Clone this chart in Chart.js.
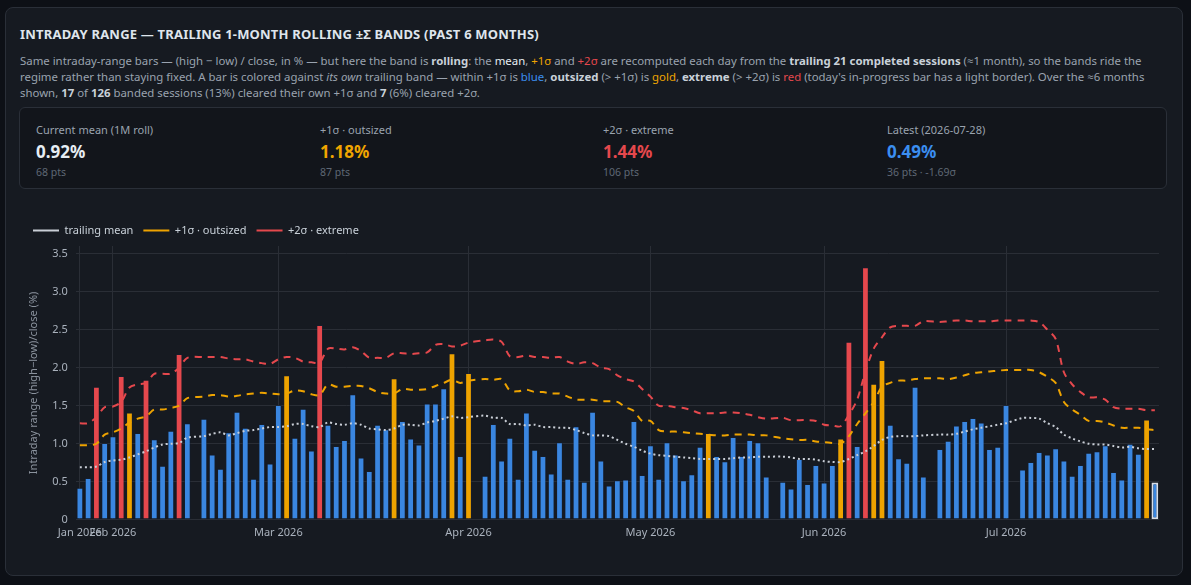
<!DOCTYPE html>
<html>
<head>
<meta charset="utf-8">
<script src="https://cdn.jsdelivr.net/npm/chart.js@4.4.1/dist/chart.umd.min.js"></script>
<style>
  html, body { margin: 0; padding: 0; background: #0d1016; }
  body { width: 1191px; height: 585px; overflow: hidden; font-family: 'Noto Sans', 'Open Sans', sans-serif; }
  .card { position: absolute; left: 5px; top: 7px; width: 1178px; height: 569px; background: #161a21;
          border: 1px solid #2a2f38; border-radius: 8px; box-sizing: border-box; }
  h1 { position: absolute; left: 14px; top: 17px; margin: 0; font-size: 13px; font-weight: 700; color: #dfe5ec; letter-spacing: 0.2px; }
  p.desc { position: absolute; left: 14px; top: 45px; width: 1150px; margin: 0; font-size: 11.4px; line-height: 16px; color: #9aa3af; }
  p.desc b { color: #c9d1d9; }
  .blue { color: #3b8ef0; } .gold { color: #f0a500; } .red { color: #e5484d; } .wt { color: #e6edf3; }
  .stats { position: absolute; left: 13px; top: 99px; width: 1148px; height: 82px; border: 1px solid #2a2f38;
           border-radius: 6px; box-sizing: border-box; background: #12151b; }
  .stat { position: absolute; top: 14px; }
  .stat .l { font-size: 11px; color: #9aa3af; }
  .stat .v { font-size: 17px; font-weight: 700; margin-top: 3px; }
  .stat .s { font-size: 10.5px; color: #5f6875; margin-top: 2px; }
  .chartbox { position: absolute; left: 13px; top: 207px; width: 1148px; height: 330px; }
</style>
</head>
<body>
<div class="card">
  <h1>INTRADAY RANGE — TRAILING 1-MONTH ROLLING ±Σ BANDS (PAST 6 MONTHS)</h1>
  <p class="desc">Same intraday-range bars — (high − low) / close, in % — but here the band is <b>rolling</b>: the <span class="wt">mean</span>, <span class="gold">+1σ</span> and <span class="red">+2σ</span> are recomputed each day from the <b>trailing 21 completed sessions</b> (≈1 month), so the bands ride the regime rather than staying fixed. A bar is colored against <i>its own</i> trailing band — within +1σ is <span class="blue">blue</span>, <b>outsized</b> (&gt; +1σ) is <span class="gold">gold</span>, <b>extreme</b> (&gt; +2σ) is <span class="red">red</span> (today's in-progress bar has a light border). Over the ≈6 months shown, <b>17</b> of <b>126</b> banded sessions (13%) cleared their own +1σ and <b>7</b> (6%) cleared +2σ.</p>
  <div class="stats">
    <div class="stat" style="left:16px"><div class="l">Current mean (1M roll)</div><div class="v" style="color:#e6edf3">0.92%</div><div class="s">68 pts</div></div>
    <div class="stat" style="left:300px"><div class="l">+1σ · outsized</div><div class="v gold">1.18%</div><div class="s">87 pts</div></div>
    <div class="stat" style="left:583px"><div class="l">+2σ · extreme</div><div class="v red">1.44%</div><div class="s">106 pts</div></div>
    <div class="stat" style="left:867px"><div class="l">Latest (2026-07-28)</div><div class="v blue">0.49%</div><div class="s">36 pts · -1.69σ</div></div>
  </div>
  <div class="chartbox"><canvas id="c"></canvas></div>
</div>
<script>
// Trading-day axis: every weekday from FIRST_DAY to LAST_DAY; market holidays stay as empty slots.
const FIRST_DAY = '2026-01-27';
const LAST_DAY = '2026-07-28';
const HOLIDAYS = ['2026-02-16', '2026-04-03', '2026-05-25', '2026-06-19', '2026-07-03'];
const MONTHS = ['Jan', 'Feb', 'Mar', 'Apr', 'May', 'Jun', 'Jul', 'Aug', 'Sep', 'Oct', 'Nov', 'Dec'];

// (high - low) / close, %
const rangePct = [
  0.42, 0.55, 1.75, 1.01,
  1.10, 1.89, 1.41, 1.14, 1.84,
  1.06, 0.71, 1.17, 2.18, 1.27,
  null, 1.33, 0.86, 0.67, 1.15,
  1.42, 1.21, 0.54, 1.26, 0.74,
  1.51, 1.90, 1.08, 1.46, 0.91,
  2.56, 1.25, 0.97, 1.05, 1.65,
  0.82, 0.64, 1.25, 1.19, 1.86,
  1.30, 1.07, 0.99, 1.53, 1.53,
  1.73, 2.19, 0.84, 1.93, null,
  0.58, 1.26, 0.78, 1.08, 0.54,
  1.41, 0.92, 0.84, 0.61, 1.02,
  0.54, 1.23, 0.50, 1.42, 0.78,
  0.45, 0.52, 0.53, 1.30, 0.59,
  0.98, 0.54, 1.02, 0.86, 0.52,
  0.60, 0.96, 1.14, 0.84, 0.77,
  1.09, 0.84, 1.05, 1.02, 0.57,
  null, 0.50, 0.41, 0.80, 0.47,
  0.72, 0.49, 0.72, 1.07, 2.34,
  0.97, 3.32, 1.79, 2.10, 1.25,
  0.81, 0.75, 1.75, 0.57, null,
  0.93, 1.04, 1.24, 1.30, 1.34,
  1.28, 0.93, 0.96, 1.51, null,
  0.66, 0.76, 0.89, 0.86, 0.94,
  0.78, 0.58, 0.72, 0.88, 0.90,
  0.98, 0.63, 0.53, 1.00, 0.87,
  1.32, 0.49
];

const trailingMean = [
  0.69, 0.69, 0.70, 0.76,
  0.78, 0.79, 0.82, 0.86, 0.90,
  0.95, 0.99, 1.00, 1.01, 1.08,
  null, 1.10, 1.13, 1.15, 1.11,
  1.14, 1.17, 1.18, 1.20, 1.22,
  1.22, 1.23, 1.26, 1.26, 1.23,
  1.22, 1.28, 1.26, 1.25, 1.27,
  1.25, 1.20, 1.19, 1.18, 1.20,
  1.25, 1.25, 1.24, 1.28, 1.30,
  1.33, 1.36, 1.34, 1.35, null,
  1.37, 1.34, 1.34, 1.26, 1.26,
  1.24, 1.25, 1.22, 1.22, 1.21,
  1.21, 1.18, 1.14, 1.11, 1.11,
  1.10, 1.05, 1.00, 0.96, 0.91,
  0.87, 0.85, 0.84, 0.83, 0.82,
  0.81, 0.80, 0.80, 0.80, 0.80,
  0.81, 0.82, 0.82, 0.83, 0.83,
  null, 0.83, 0.82, 0.80, 0.80,
  0.79, 0.77, 0.76, 0.76, 0.80,
  0.85, 0.90, 0.97, 1.05, 1.09,
  1.10, 1.10, 1.10, 1.11, null,
  1.12, 1.12, 1.13, 1.16, 1.19,
  1.21, 1.23, 1.25, 1.27, null,
  1.34, 1.34, 1.33, 1.27, 1.22,
  1.12, 1.07, 1.03, 1.00, 0.99,
  0.99, 0.97, 0.95, 0.96, 0.94,
  0.93, 0.93
];

const plus1Sigma = [
  0.98, 0.98, 1.00, 1.12,
  1.15, 1.20, 1.28, 1.33, 1.36,
  1.45, 1.45, 1.47, 1.50, 1.60,
  null, 1.62, 1.64, 1.64, 1.62,
  1.63, 1.65, 1.66, 1.67, 1.66,
  1.65, 1.66, 1.70, 1.69, 1.65,
  1.64, 1.78, 1.75, 1.75, 1.76,
  1.76, 1.73, 1.68, 1.66, 1.66,
  1.72, 1.71, 1.71, 1.72, 1.76,
  1.80, 1.84, 1.80, 1.83, null,
  1.85, 1.84, 1.85, 1.70, 1.69,
  1.71, 1.68, 1.68, 1.66, 1.66,
  1.62, 1.58, 1.58, 1.58, 1.56,
  1.56, 1.55, 1.48, 1.43, 1.30,
  1.30, 1.18, 1.16, 1.16, 1.15,
  1.14, 1.13, 1.12, 1.11, 1.11,
  1.12, 1.12, 1.12, 1.11, 1.11,
  null, 1.07, 1.06, 1.05, 1.05,
  1.03, 1.02, 1.01, 1.00, 1.10,
  1.26, 1.40, 1.55, 1.75, 1.80,
  1.83, 1.83, 1.85, 1.86, null,
  1.86, 1.85, 1.87, 1.90, 1.93,
  1.94, 1.95, 1.96, 1.97, null,
  1.97, 1.97, 1.94, 1.88, 1.80,
  1.55, 1.45, 1.38, 1.30, 1.30,
  1.28, 1.24, 1.21, 1.21, 1.21,
  1.19, 1.18
];

const plus2Sigma = [
  1.27, 1.27, 1.35, 1.48,
  1.49, 1.55, 1.74, 1.78, 1.80,
  1.92, 1.92, 1.92, 2.00, 2.13,
  null, 2.14, 2.14, 2.14, 2.12,
  2.11, 2.11, 2.08, 2.06, 2.05,
  2.11, 2.14, 2.13, 2.08, 2.07,
  2.07, 2.25, 2.25, 2.24, 2.27,
  2.22, 2.13, 2.13, 2.13, 2.19,
  2.19, 2.18, 2.19, 2.20, 2.30,
  2.31, 2.28, 2.29, 2.33, null,
  2.36, 2.37, 2.34, 2.15, 2.14,
  2.16, 2.14, 2.14, 2.13, 2.14,
  2.08, 2.05, 2.07, 2.06, 2.00,
  1.98, 1.90, 1.85, 1.82, 1.72,
  1.62, 1.50, 1.50, 1.48, 1.47,
  1.44, 1.40, 1.40, 1.40, 1.41,
  1.41, 1.40, 1.38, 1.35, 1.33,
  null, 1.34, 1.31, 1.31, 1.31,
  1.30, 1.25, 1.24, 1.23, 1.38,
  1.58, 1.95, 2.25, 2.40, 2.53,
  2.55, 2.55, 2.55, 2.61, null,
  2.60, 2.61, 2.62, 2.62, 2.61,
  2.61, 2.61, 2.62, 2.62, null,
  2.62, 2.62, 2.60, 2.50, 2.38,
  1.94, 1.78, 1.68, 1.61, 1.61,
  1.58, 1.48, 1.46, 1.46, 1.46,
  1.44, 1.44
];

const BLUE = '#3a86e0';
const GOLD = '#eea300';
const RED = '#e5484d';
const GRID = '#2a2e36';
const TICK = '#aab2bd';

function tradingDays() {
  const out = [];
  const d = new Date(FIRST_DAY + 'T12:00:00Z');
  const end = new Date(LAST_DAY + 'T12:00:00Z');
  while (d <= end) {
    const wd = d.getUTCDay();
    if (wd !== 0 && wd !== 6) out.push(d.toISOString().slice(0, 10));
    d.setUTCDate(d.getUTCDate() + 1);
  }
  return out;
}

const days = tradingDays();
// month marker = first weekday on or after the 2nd of each month
const monthTicks = new Set();
days.forEach((day, i) => {
  const prev = days[i - 1];
  const dd = +day.slice(8, 10);
  if (dd >= 2 && (!prev || prev.slice(5, 7) !== day.slice(5, 7) || +prev.slice(8, 10) < 2)) monthTicks.add(i);
});

const lastIdx = rangePct.length - 1;
const barColors = rangePct.map((v, i) => {
  if (v == null) return BLUE;
  if (v > plus2Sigma[i]) return RED;
  if (v > plus1Sigma[i]) return GOLD;
  return BLUE;
});

new Chart(document.getElementById('c'), {
  data: {
    labels: days,
    datasets: [
      {
        type: 'line', label: 'trailing mean', data: trailingMean, spanGaps: true,
        borderColor: '#c9ced6', borderWidth: 2, borderDash: [2, 3], pointRadius: 0, tension: 0.3, order: 0
      },
      {
        type: 'line', label: '+1σ · outsized', data: plus1Sigma, spanGaps: true,
        borderColor: GOLD, borderWidth: 2, borderDash: [7, 6], pointRadius: 0, tension: 0.3, order: 0
      },
      {
        type: 'line', label: '+2σ · extreme', data: plus2Sigma, spanGaps: true,
        borderColor: RED, borderWidth: 2, borderDash: [7, 6], pointRadius: 0, tension: 0.3, order: 0
      },
      {
        type: 'bar', label: 'range', data: rangePct, order: 1,
        backgroundColor: barColors,
        borderColor: rangePct.map((v, i) => i === lastIdx ? '#d7dee8' : 'rgba(20,30,50,0.5)'),
        borderWidth: rangePct.map((v, i) => i === lastIdx ? 2 : 1),
        borderSkipped: false,
        categoryPercentage: 0.86, barPercentage: 0.95
      }
    ]
  },
  options: {
    responsive: true,
    maintainAspectRatio: false,
    animation: false,
    layout: { padding: { left: 4, right: 8, top: 0, bottom: 0 } },
    plugins: {
      tooltip: { enabled: false },
      legend: {
        position: 'top', align: 'start',
        labels: {
          color: '#c9d1d9', font: { family: "'Noto Sans', sans-serif", size: 11 },
          usePointStyle: true, pointStyle: 'line', pointStyleWidth: 26, boxHeight: 8, padding: 10,
          filter: (item) => item.datasetIndex !== 3
        }
      }
    },
    scales: {
      x: {
        type: 'category',
        grid: {
          offset: false, drawTicks: false,
          color: (c) => monthTicks.has(c.index) ? GRID : 'transparent'
        },
        border: { display: false },
        ticks: {
          autoSkip: false, maxRotation: 0, color: TICK, padding: 6,
          font: { family: "'Noto Sans', sans-serif", size: 11 },
          callback: (v, i) => monthTicks.has(i) ? MONTHS[+days[i].slice(5, 7) - 1] + ' ' + days[i].slice(0, 4) : ''
        }
      },
      y: {
        min: 0, max: 3.6,
        afterBuildTicks: (ax) => { ax.ticks = [0, 0.5, 1, 1.5, 2, 2.5, 3, 3.5].map((v) => ({ value: v })); },
        grid: { color: GRID, drawTicks: false },
        border: { display: false },
        ticks: { color: TICK, padding: 8, font: { family: "'Noto Sans', sans-serif", size: 11 } },
        title: {
          display: true, text: 'Intraday range (high−low)/close (%)', color: '#8b939e',
          font: { family: "'Noto Sans', sans-serif", size: 11 }
        }
      }
    }
  }
});
</script>
</body>
</html>
